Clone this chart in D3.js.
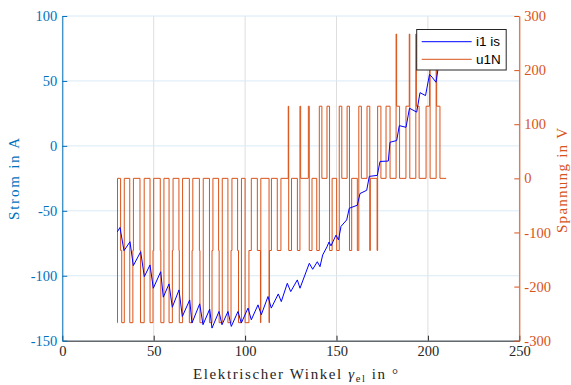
<!DOCTYPE html>
<html><head><meta charset="utf-8">
<script src="https://cdn.jsdelivr.net/npm/d3@7"></script>
<style>body{margin:0;background:#fff}svg{display:block}</style>
</head><body>
<svg id="chart" width="571" height="385"></svg>
<script>
// ---- data ----
const currentDeg = [30.1,31.56,33.75,37.03,38.84,42.89,44.86,47.98,49.78,53.83,55.25,58.37,60.18,63.84,65.65,69.69,70.95,75.16,76.97,80.63,81.89,85.72,87.36,90.64,92.45,96.11,97.92,101.59,103.39,107.06,108.86,112.53,114.33,118.16,119.8,123.09,124.95,128.56,130.03,135.12,136.98,139.5,140.97,142.45,144.8,145.9,146.99,149.73,151.09,152.46,155.58,157,161.38,162.86,166.52,167.94,172.32,173.8,178.34,179.27,182.93,184.35,188.02,189.93,193.87,195.68,198.69,200.88,202.24,204.43,205.53];
const currentA = [-66.2,-62.8,-80.7,-73.8,-92.2,-81.5,-100.7,-91.7,-109.6,-96.9,-116.5,-106.3,-124.2,-110.9,-131.4,-118.6,-136.4,-121.6,-137.7,-125.7,-140.3,-127.5,-137.7,-127.5,-139,-127.5,-136.4,-124.9,-133.9,-122.4,-130,-116,-124.9,-114,-119.9,-105.8,-112.2,-103.2,-109.6,-90.4,-95,-89.2,-93,-84,-77.7,-74,-77,-68.7,-72.5,-62,-57,-48,-45.7,-36.7,-34.2,-23.5,-22.7,-12,-11.7,2.8,4.1,15.6,14.3,29,26,41,38.7,55,53,49,59];
// voltage: switching instants (deg) and level held from that instant on
const voltDeg = [30.0,30.2,
  31.9,32.5,33.9, 36.9,38.6,38.9, 42.5,42.8,44.8, 48.0,49.6,50.0, 53.6,53.9,55.6, 58.4,60.2,60.6,
  63.8,64.0,65.8, 69.5,71.0,71.4, 75.0,75.3,77.1, 80.5,81.9,82.4, 85.5,85.8,87.5, 90.6,92.3,92.8,
  95.9,96.4,98.0, 100.0,102.1,103.4, 106.7,108.4,108.6, 113.1,113.3,114.4, 117.6,119.6,
  123.6,123.85,125.4, 128.6,130.0,130.4, 134.6,135.1,136.6, 139.2,140.6,142.0, 144.8,146.2,147.6,
  150.1,151.5,152.9, 155.8,157.1,158.3, 161.4,162.2,163.6, 166.7,168.2,168.5, 172.2,172.5,174.3,
  177.1,179.3, 182.6,182.9,184.5, 188.0,189.8,190.1, 193.4,193.7,195.2, 199.0,200.9,201.2,
  204.5,204.8,206.6, 210.0];
const voltV = [-266.7,0,
  -133.3,-266.7,0, -266.7,-133.3,0, -133.3,-266.7,0, -266.7,-133.3,0, -133.3,-266.7,0, -266.7,-133.3,0,
  -133.3,-266.7,0, -266.7,-133.3,0, -133.3,-266.7,0, -266.7,-133.3,0, -133.3,-266.7,0, -266.7,-133.3,0,
  -133.3,-266.7,0, -266.7,-133.3,0, -133.3,-266.7,0, -266.7,-133.3,0, -133.3,0,
  133.3,-133.3,0, -133.3,133.3,0, 133.3,-133.3,0, -133.3,133.3,0, 133.3,-133.3,0,
  -133.3,133.3,0, 133.3,-133.3,0, -133.3,133.3,0, 133.3,-133.3,0, -133.3,133.3,0,
  133.3,0, 266.7,133.3,0, 133.3,266.7,0, 266.7,133.3,0, 133.3,266.7,0,
  266.7,133.3,0, 0];
const xTicks = [0,50,100,150,200,250];
const yLeftTicks = [-150,-100,-50,0,50,100];
const yRightTicks = [-300,-200,-100,0,100,200,300];
const seriesNames = ["i1 is","u1N"];

// ---- drawing ----
const blue = "#0072BD", orange = "#D95319", dark = "#262626";
const P = {l:62.3, r:519.3, t:16, b:340.7};
const svg = d3.select("#chart");
svg.append("rect").attr("width",571).attr("height",385).attr("fill","#fff");
const x = d3.scaleLinear().domain([0,250]).range([P.l,P.r]);
const yI = d3.scaleLinear().domain([-150,100]).range([P.b,P.t]);
const yU = d3.scaleLinear().domain([-300,300]).range([P.b,P.t]);
const serif = "'Liberation Serif','Times New Roman',serif";

// grid
svg.append("g").selectAll("line").data(xTicks).join("line")
  .attr("x1",d=>x(d)).attr("x2",d=>x(d)).attr("y1",P.t).attr("y2",P.b)
  .attr("stroke","#dedede").attr("stroke-width",1);
svg.append("g").selectAll("line").data(yLeftTicks).join("line")
  .attr("x1",P.l).attr("x2",P.r).attr("y1",d=>yI(d)).attr("y2",d=>yI(d))
  .attr("stroke","#d9eaf5").attr("stroke-width",1);

// series
const vPts = voltDeg.map((d,i)=>[d,voltV[i]]);
const iPts = currentDeg.map((d,i)=>[d,currentA[i]]);
svg.append("path").datum(vPts)
  .attr("d",d3.line().x(d=>x(d[0])).y(d=>yU(d[1])).curve(d3.curveStepAfter))
  .attr("fill","none").attr("stroke",orange).attr("stroke-width",1);
svg.append("path").datum(iPts)
  .attr("d",d3.line().x(d=>x(d[0])).y(d=>yI(d[1])))
  .attr("fill","none").attr("stroke","#0000ff").attr("stroke-width",1);

// axes
const fmt = d=>String(d);
function style(g,col){
  g.select(".domain").attr("stroke",col).attr("stroke-width",1);
  g.selectAll(".tick line").attr("stroke",col);
  g.selectAll(".tick text").attr("fill",col).attr("font-family",serif).attr("font-size","14.5px");
}
svg.append("g").attr("transform",`translate(0,${P.b})`)
  .call(d3.axisBottom(x).tickValues(xTicks).tickFormat(fmt).tickSize(-5).tickSizeOuter(0).tickPadding(5))
  .call(g=>style(g,dark));
svg.append("g").attr("transform",`translate(${P.l},0)`)
  .call(d3.axisLeft(yI).tickValues(yLeftTicks).tickFormat(fmt).tickSize(-5).tickSizeOuter(0).tickPadding(5))
  .call(g=>style(g,blue));
svg.append("g").attr("transform",`translate(${P.r},0)`)
  .call(d3.axisRight(yU).tickValues(yRightTicks).tickFormat(fmt).tickSize(-5).tickSizeOuter(0).tickPadding(5))
  .call(g=>style(g,orange));

// axis labels
svg.append("text").attr("transform","translate(18.5,179) rotate(-90)")
  .attr("text-anchor","middle").attr("font-family",serif).attr("font-size","15px")
  .attr("fill",blue).attr("textLength",82).text("Strom in A");
svg.append("text").attr("transform","translate(567,180.5) rotate(-90)")
  .attr("text-anchor","middle").attr("font-family",serif).attr("font-size","15px")
  .attr("fill",orange).attr("textLength",105).text("Spannung in V");
const xl = svg.append("text").attr("x",295.5).attr("y",379.3)
  .attr("text-anchor","middle").attr("font-family",serif).attr("font-size","15px")
  .attr("fill",dark).attr("textLength",205);
xl.append("tspan").text("Elektrischer Winkel ");
xl.append("tspan").attr("font-style","italic").text("γ");
xl.append("tspan").attr("font-size","10.5px").attr("dy",3).text("el");
xl.append("tspan").attr("dy",-3).text(" in ");
xl.append("tspan").text("°");

// legend
const lg = svg.append("g");
lg.append("rect").attr("x",416.7).attr("y",29.5).attr("width",89.5).attr("height",40.5)
  .attr("fill","#fff").attr("stroke",dark).attr("stroke-width",1);
const lcol = ["#0000ff",orange];
seriesNames.forEach((n,i)=>{
  const yy = 41.7 + i*17.6;
  lg.append("line").attr("x1",421.7).attr("x2",471.7).attr("y1",yy).attr("y2",yy)
    .attr("stroke",lcol[i]).attr("stroke-width",1);
  lg.append("text").attr("x",476).attr("y",yy).attr("dy","0.35em")
    .attr("font-family","'Liberation Sans',Arial,sans-serif").attr("font-size","13.5px")
    .attr("fill","#000").text(n);
});
</script>
</body></html>
